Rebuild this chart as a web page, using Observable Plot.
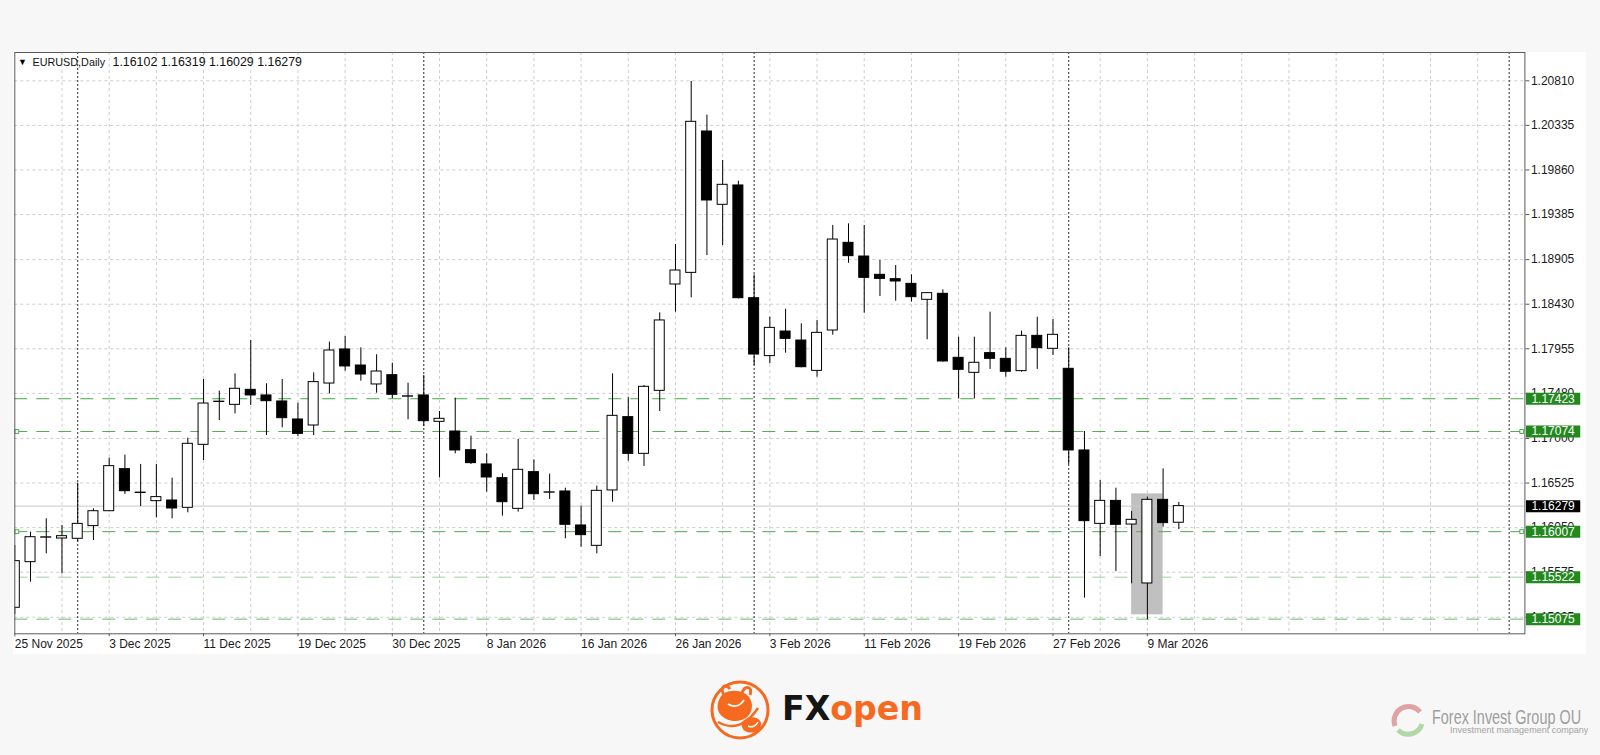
<!DOCTYPE html>
<html>
<head>
<meta charset="utf-8">
<script src="https://cdn.jsdelivr.net/npm/d3@7"></script>
<script src="https://cdn.jsdelivr.net/npm/@observablehq/plot@0.6"></script>
<style>
  html, body { margin:0; padding:0; background:#f7f7f7; width:1600px; height:755px; overflow:hidden; font-family:"Liberation Sans", Arial, sans-serif; }
  #panel { position:absolute; left:13px; top:52px; width:1573px; height:602px; background:#ffffff; }
  #chart { position:absolute; left:0; top:0; }
  #logos { position:absolute; left:0; top:0; pointer-events:none; }
</style>
</head>
<body>
<div id="panel"></div>
<div id="chart"></div>
<svg id="logos" width="1600" height="755">
  <g transform="translate(740,710)">
    <circle r="28" fill="none" stroke="#f66a1f" stroke-width="3"/>
    <path d="M-21,-10 C-18,-20 -4,-22 6,-16 C14,-10 14,2 6,8 C-2,13 -14,12 -20,4 C-23,0 -23,-5 -21,-10 Z" fill="#f66a1f"/>
    <path d="M-16,-15 C-21,-23 -14,-27 -10,-21 M2,-17 C5,-25 13,-24 10,-15" stroke="#f66a1f" stroke-width="3" fill="none"/>
    <path d="M2,12 C8,5 19,6 21,13 C22,21 12,25 5,21 C2,19 1,15 2,12 Z" fill="#f66a1f"/>
    <path d="M-22,12 C-8,20 6,16 18,-2" stroke="#f66a1f" stroke-width="2.5" fill="none"/>
    <path d="M-12,-6 C-6,-2 0,-4 4,-10" stroke="#ffffff" stroke-width="1.8" fill="none"/>
    <path d="M8,16 C12,18 16,16 18,12" stroke="#ffffff" stroke-width="1.5" fill="none"/>
  </g>
  <text x="782" y="720" font-family="DejaVu Sans" font-weight="bold" font-size="33" textLength="141" lengthAdjust="spacingAndGlyphs"><tspan fill="#151515">FX</tspan><tspan fill="#f66a1f">open</tspan></text>
  <g transform="translate(1408,720)">
    <path d="M-13,6 A14.5 14.5 0 0 1 12,-8" stroke="#dfa3a3" stroke-width="5" fill="none"/>
    <path d="M14,4 A14.5 14.5 0 0 1 -10,10" stroke="#b3d8a8" stroke-width="5" fill="none"/>
  </g>
  <text transform="translate(1432,723.5) scale(0.74,1)" x="0" y="0" font-family="Liberation Sans" font-size="19.5" fill="#9e9e9e">Forex Invest Group OU</text>
  <text transform="translate(1450,733) scale(0.95,1)" x="0" y="0" font-family="Liberation Sans" font-size="9.5" fill="#a3a3a3">Investment management company</text>
</svg>
<script>
// ---------------- DATA ----------------
const symbolName = "EURUSD,Daily";

const dates = [
  "2025-11-25","2025-11-26","2025-11-27","2025-11-28","2025-12-01","2025-12-02","2025-12-03","2025-12-04","2025-12-05",
  "2025-12-08","2025-12-09","2025-12-10","2025-12-11","2025-12-12","2025-12-15","2025-12-16","2025-12-17","2025-12-18",
  "2025-12-19","2025-12-22","2025-12-23","2025-12-24","2025-12-26","2025-12-29","2025-12-30","2025-12-31","2026-01-02",
  "2026-01-05","2026-01-06","2026-01-07","2026-01-08","2026-01-09","2026-01-12","2026-01-13","2026-01-14","2026-01-15",
  "2026-01-16","2026-01-19","2026-01-20","2026-01-21","2026-01-22","2026-01-23","2026-01-26","2026-01-27","2026-01-28",
  "2026-01-29","2026-01-30","2026-02-02","2026-02-03","2026-02-04","2026-02-05","2026-02-06","2026-02-09","2026-02-10",
  "2026-02-11","2026-02-12","2026-02-13","2026-02-16","2026-02-17","2026-02-18","2026-02-19","2026-02-20","2026-02-23",
  "2026-02-24","2026-02-25","2026-02-26","2026-02-27","2026-03-02","2026-03-03","2026-03-04","2026-03-05","2026-03-06",
  "2026-03-09","2026-03-10","2026-03-11"
];

const open = [
  1.15196,1.15682,1.15943,1.15934,1.15931,1.16066,1.16225,1.16673,1.16419,
  1.16332,1.16339,1.16261,1.16932,1.17388,1.17358,1.17518,1.17458,1.17394,
  1.17202,1.17138,1.17585,1.17948,1.17777,1.17575,1.17674,1.17445,1.17458,
  1.17177,1.17074,1.16875,1.16723,1.16577,1.16250,1.16641,1.16422,1.16435,
  1.16073,1.15856,1.16446,1.17227,1.16836,1.17507,1.18640,1.18764,1.20270,
  1.19489,1.19695,1.18494,1.17877,1.18139,1.18043,1.17720,1.18150,1.19084,
  1.18938,1.18743,1.18697,1.18647,1.18477,1.18541,1.17859,1.17699,1.17909,
  1.17848,1.17717,1.18093,1.17955,1.17742,1.16872,1.16090,1.16335,1.16083,
  1.15455,1.16346,1.16102
];
const high = [
  1.15860,1.16002,1.16144,1.16073,1.16524,1.16250,1.16790,1.16822,1.16723,
  1.16723,1.16577,1.17003,1.17628,1.17504,1.17688,1.18044,1.17582,1.17628,
  1.17376,1.17699,1.18026,1.18086,1.17965,1.17891,1.17802,1.17589,1.17671,
  1.17287,1.17429,1.17024,1.16836,1.16623,1.16989,1.16772,1.16620,1.16470,
  1.16279,1.16492,1.17688,1.17436,1.17564,1.18338,1.19066,1.20803,1.20444,
  1.19961,1.19741,1.18743,1.18292,1.18377,1.18221,1.18257,1.19269,1.19286,
  1.19269,1.18896,1.18842,1.18743,1.18550,1.18583,1.18079,1.18079,1.18345,
  1.17965,1.18143,1.18292,1.18267,1.17965,1.17074,1.16552,1.16470,1.16222,
  1.16375,1.16676,1.16319
];
const low = [
  1.15125,1.15469,1.15771,1.15558,1.15900,1.15913,1.16220,1.16403,1.16275,
  1.16154,1.16144,1.16208,1.16765,1.17191,1.17262,1.17351,1.17031,1.17113,
  1.17021,1.17031,1.17475,1.17717,1.17610,1.17482,1.17422,1.17198,1.17127,
  1.16580,1.16836,1.16723,1.16428,1.16172,1.16215,1.16339,1.16350,1.15931,
  1.15842,1.15771,1.16321,1.16758,1.16701,1.17287,1.18345,1.18498,1.18949,
  1.19055,1.18487,1.17777,1.17795,1.17909,1.17752,1.17653,1.18100,1.18867,
  1.18335,1.18512,1.18462,1.18452,1.18051,1.17813,1.17419,1.17419,1.17735,
  1.17653,1.17706,1.17735,1.17884,1.16723,1.15299,1.15742,1.15583,1.15451,
  1.15068,1.16055,1.16029
];
const close = [
  1.15693,1.15948,1.15947,1.15959,1.16090,1.16225,1.16705,1.16438,1.16423,
  1.16375,1.16254,1.16943,1.17372,1.17392,1.17529,1.17458,1.17397,1.17216,
  1.17049,1.17600,1.17937,1.17767,1.17681,1.17713,1.17465,1.17449,1.17184,
  1.17209,1.16872,1.16737,1.16584,1.16321,1.16666,1.16406,1.16426,1.16080,
  1.15970,1.16442,1.17241,1.16836,1.17550,1.18257,1.18789,1.20373,1.19535,
  1.19702,1.18494,1.17894,1.18178,1.18061,1.17759,1.18125,1.19119,1.18942,
  1.18711,1.18700,1.18672,1.18505,1.18548,1.17820,1.17731,1.17806,1.17848,
  1.17710,1.18093,1.17962,1.18104,1.16872,1.16119,1.16335,1.16080,1.16133,
  1.16346,1.16098,1.16279
];

// horizontal support / resistance levels
const levelValues = [1.17423, 1.17074, 1.16007, 1.15522, 1.15075];
const anchoredLevels = [1.17074, 1.16007];

// highlighted zone (bar index range and price range)
const zoneBars = [71, 73];
const zonePrices = [1.15121, 1.16410];

// price axis ticks
const yTickValues = [1.20810,1.20335,1.19860,1.19385,1.18905,1.18430,1.17955,1.17480,1.17000,1.16525,1.16050,1.15575,1.15095];
const yTickLabels = ["1.20810","1.20335","1.19860","1.19385","1.18905","1.18430","1.17955","1.17480","1.17000","1.16525","1.16050","1.15575","1.15095"];

// time axis labels
const xTickLabels = ["25 Nov 2025","3 Dec 2025","11 Dec 2025","19 Dec 2025","30 Dec 2025","8 Jan 2026","16 Jan 2026","26 Jan 2026","3 Feb 2026","11 Feb 2026","19 Feb 2026","27 Feb 2026","9 Mar 2026"];

// ---------------- BUILD ----------------
const N = dates.length;
const candles = dates.map((d, i) => ({i, date: d, o: open[i], h: high[i], l: low[i], c: close[i]}));
const fmtDate = d3.utcFormat("%-d %b %Y");
const parse = d3.utcParse("%Y-%m-%d");
const dateLabel = dates.map(d => fmtDate(parse(d)));
const xTickIdx = xTickLabels.map(l => dateLabel.indexOf(l));

// monthly period separators (first bar of each month) + next-period marker
const sepIdx = [];
for (let i = 1; i < N; i++) if (dates[i].slice(0, 7) !== dates[i - 1].slice(0, 7)) sepIdx.push(i);
sepIdx.push(95);

const gridIdx = d3.range(3, 96, 3);
const last = N - 1;
const lastClose = close[last];

const levelStroke = ["#3fae3f", "#56ad56", "#49ad49", "#9fcf9f", "#6cb86c"];
const labelGreen = "#23891f";
const half = 0.318; // half body width in bars

const W = 1600, H = 660;
const chart = Plot.plot({
  width: W, height: H,
  marginLeft: 14.3, marginRight: 75.6, marginTop: 52, marginBottom: 26.7,
  style: {background: "transparent", fontFamily: "Liberation Sans, Arial, sans-serif", fontSize: "12px", color: "#1a1a1a"},
  x: {type: "linear", domain: [0, 96]},
  y: {type: "linear", domain: [1.149189, 1.211115]},
  color: {type: "identity"},
  marks: [
    // grid
    Plot.ruleY(yTickValues, {stroke: "#cdcdcd", strokeDasharray: "3,3"}),
    Plot.ruleX(gridIdx, {stroke: "#cdcdcd", strokeDasharray: "3,3"}),
    // period separators
    Plot.ruleX(sepIdx, {stroke: "#2a2a2a", strokeDasharray: "2,2"}),
    // highlighted zone
    Plot.rect([0], {x1: () => zoneBars[0], x2: () => zoneBars[1], y1: () => zonePrices[0], y2: () => zonePrices[1], fill: "#c0c0c0"}),
    // current price line
    Plot.ruleY([lastClose], {stroke: "#c9c9c9"}),
    // levels
    Plot.ruleY(levelValues, {stroke: (d, i) => levelStroke[i], strokeDasharray: "13,9"}),
    Plot.dot(anchoredLevels.flatMap(v => [{x: 0.13, y: v}, {x: 95.8, y: v}]), {x: "x", y: "y", symbol: "square", r: 2.2, stroke: "#3fae3f", fill: "#ffffff", strokeWidth: 1}),
    // candles
    Plot.ruleX(candles, {x: "i", y1: "l", y2: "h", stroke: "#000", clip: true}),
    Plot.rect(candles, {x1: d => d.i - half, x2: d => d.i + half, y1: "o", y2: "c", fill: d => d.c >= d.o ? "#ffffff" : "#000000", stroke: "#000", strokeWidth: 1, clip: true}),
    // frame
    Plot.frame({stroke: "#5a5a5a"}),
    // axes
    Plot.axisY({anchor: "right", ticks: yTickValues, tickFormat: d => yTickLabels[yTickValues.indexOf(d)], tickSize: 4, tickPadding: 2, label: null, stroke: "#5a5a5a", fontSize: 12}),
    Plot.axisX({anchor: "bottom", ticks: xTickIdx, tickFormat: d => xTickLabels[xTickIdx.indexOf(d)], tickSize: 3, tickPadding: 3, textAnchor: "start", label: null, stroke: "#5a5a5a", fontSize: 12}),
    // level labels
    Plot.ruleY(levelValues, {x1: 96.1, x2: 99.55, stroke: labelGreen, strokeWidth: 12}),
    Plot.text(levelValues, {x: 96, y: d => d, text: d => d.toFixed(5), dx: 6.5, textAnchor: "start", fill: "#ffffff", fontSize: 12}),
    // current price label
    Plot.ruleY([lastClose], {x1: 96.1, x2: 99.55, stroke: "#000000", strokeWidth: 12}),
    Plot.text([lastClose], {x: 96, y: d => d, text: d => d.toFixed(5), dx: 6.5, textAnchor: "start", fill: "#ffffff", fontSize: 12}),
    // title
    Plot.text(["\u25BC"], {frameAnchor: "top-left", dx: 7.6, dy: 9.7, textAnchor: "middle", lineAnchor: "middle", fontSize: 9, fill: "#000"}),
    Plot.text([symbolName], {frameAnchor: "top-left", dx: 17.7, dy: 9.7, textAnchor: "start", lineAnchor: "middle", fontSize: 10.8, fill: "#111"}),
    Plot.text([[open[last], high[last], low[last], close[last]].map(v => v.toFixed(5)).join(" ")], {frameAnchor: "top-left", dx: 97.7, dy: 9.7, textAnchor: "start", lineAnchor: "middle", fontSize: 12.4, fill: "#111"})
  ]
});
document.getElementById("chart").appendChild(chart);
</script>
</body>
</html>
